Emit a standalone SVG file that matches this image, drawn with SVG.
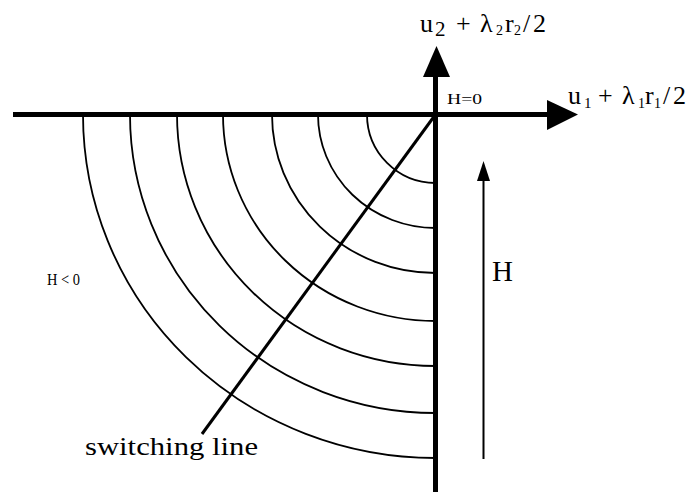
<svg xmlns="http://www.w3.org/2000/svg" width="696" height="492" viewBox="0 0 696 492">
<style>
.ax{stroke:#000;stroke-width:5;fill:none}
.arc{stroke:#000;stroke-width:1.8;fill:none}
.sw{stroke:#000;stroke-width:3;fill:none}
.hl{stroke:#000;stroke-width:2;fill:none}
.t{font-family:"Liberation Serif","Times New Roman",serif;fill:#000}
</style>
<rect width="696" height="492" fill="#fff"/>
<g id="axes">
<line class="ax" x1="13" y1="114.5" x2="550" y2="114.5"/>
<polygon points="547,100 578,114.5 547,130" fill="#000"/>
<line class="ax" x1="435.5" y1="492" x2="435.5" y2="74"/>
<polygon points="423,77 436.5,46 450,77" fill="#000"/>
</g>
<g id="arcs">
<path class="arc" d="M435.5,183 A68.5,68.5 0 0 1 367,114.5"/>
<path class="arc" d="M435.5,228 A117.5,113.5 0 0 1 318,114.5"/>
<path class="arc" d="M435.5,273 A163.5,158.5 0 0 1 272,114.5"/>
<path class="arc" d="M435.5,321 A212.5,206.5 0 0 1 223,114.5"/>
<path class="arc" d="M435.5,366 A258.5,251.5 0 0 1 177,114.5"/>
<path class="arc" d="M435.5,413 A305.5,298.5 0 0 1 130,114.5"/>
<path class="arc" d="M435.5,458 A352.5,343.5 0 0 1 83,114.5"/>
</g>
<g id="switching-line">
<line class="sw" x1="435.5" y1="114.5" x2="202" y2="434"/>
</g>
<g id="h-arrow">
<line class="hl" x1="483.5" y1="459" x2="483.5" y2="176"/>
<polygon points="477,181 483.5,161 490,181" fill="#000"/>
</g>
<g id="labels">
<text class="t" font-size="26" y="32"><tspan x="420">u</tspan><tspan x="435" y="36" font-size="21">2</tspan><tspan x="456" y="32">+</tspan><tspan x="480">λ</tspan><tspan x="496" y="35" font-size="14">2</tspan><tspan x="505" y="32">r</tspan><tspan x="514" y="35" font-size="14">2</tspan><tspan x="523" y="32">/</tspan><tspan x="533">2</tspan></text>
<text class="t" font-size="26" y="104"><tspan x="568">u</tspan><tspan x="584" y="108" font-size="15">1</tspan><tspan x="598" y="104">+</tspan><tspan x="622">λ</tspan><tspan x="638" y="108" font-size="14">1</tspan><tspan x="645" y="104">r</tspan><tspan x="654" y="108" font-size="14">1</tspan><tspan x="663" y="104">/</tspan><tspan x="673">2</tspan></text>
<text class="t" font-size="15" x="447" y="104" textLength="35" lengthAdjust="spacingAndGlyphs">H=0</text>
<text class="t" font-size="16" x="47" y="285" textLength="33" lengthAdjust="spacingAndGlyphs">H &lt; 0</text>
<text class="t" font-size="29" x="492" y="281">H</text>
<text class="t" font-size="26" x="85" y="455" textLength="173" lengthAdjust="spacingAndGlyphs">switching line</text>
</g>
</svg>
